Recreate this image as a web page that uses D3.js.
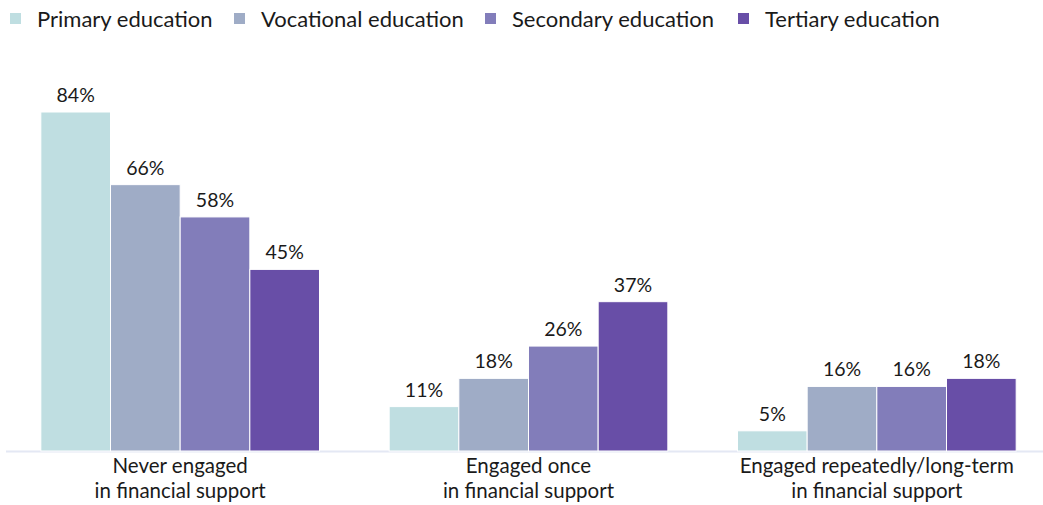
<!DOCTYPE html>
<html>
<head>
<meta charset="utf-8">
<script src="https://cdn.jsdelivr.net/npm/d3@7"></script>
<style>
  html, body { margin: 0; padding: 0; background: #ffffff; }
  svg { display: block; font-family: Lato, "Noto Sans", sans-serif; }
</style>
</head>
<body>
<svg id="chart" width="1043" height="505"></svg>
<script>
// Engagement in financial support, by education level (%)
const categories = [
  ["Never engaged", "in financial support"],
  ["Engaged once", "in financial support"],
  ["Engaged repeatedly/long-term", "in financial support"]
];
const seriesNames = ["Primary education", "Vocational education", "Secondary education", "Tertiary education"];
const primary    = [84, 11, 5];
const vocational = [66, 18, 16];
const secondary  = [58, 26, 16];
const tertiary   = [45, 37, 18];
const seriesValues = [primary, vocational, secondary, tertiary];
const colors = ["#bfdee1", "#9facc6", "#827dba", "#684ea7"];

const svg = d3.select("#chart");
const baseline = 451;

const x0 = d3.scaleBand()
  .domain(d3.range(categories.length))
  .range([6, 1051])
  .paddingInner(0.2)
  .paddingOuter(0.1);

const x1 = d3.scaleBand()
  .domain(d3.range(seriesNames.length))
  .range([0, x0.bandwidth()]);

const y = d3.scaleLinear().domain([0, 84]).range([baseline, 112]);

// baseline rule
svg.append("line")
  .attr("x1", 6).attr("x2", 1043)
  .attr("y1", baseline + 0.5).attr("y2", baseline + 0.5)
  .attr("stroke", "#e4e8f4").attr("stroke-width", 2);

const groups = svg.selectAll("g.group")
  .data(categories)
  .join("g")
  .attr("class", "group")
  .attr("transform", (d, i) => `translate(${x0(i)},0)`);

groups.each(function (cat, ci) {
  const g = d3.select(this);
  const vals = seriesValues.map((s, si) => ({ si, v: s[ci] }));
  g.selectAll("rect")
    .data(vals)
    .join("rect")
    .attr("x", d => x1(d.si))
    .attr("width", x1.bandwidth())
    .attr("y", d => y(d.v))
    .attr("height", d => baseline - y(d.v))
    .attr("fill", d => colors[d.si])
    .attr("stroke", "#ffffff")
    .attr("stroke-width", 1);

  g.selectAll("text.value")
    .data(vals)
    .join("text")
    .attr("class", "value")
    .attr("x", d => x1(d.si) + x1.bandwidth() / 2)
    .attr("y", d => y(d.v) - 10)
    .attr("text-anchor", "middle")
    .attr("font-size", 19.5)
    .attr("fill", "#1a1a1a")
    .text(d => d.v + "%");

  const lbl = g.append("text")
    .attr("text-anchor", "middle")
    .attr("font-size", 20.5)
    .attr("fill", "#1a1a1a");
  cat.forEach((line, li) => {
    lbl.append("tspan")
      .attr("x", x0.bandwidth() / 2)
      .attr("y", 473 + li * 24.5)
      .text(line);
  });
});

// legend
const legendX = [10, 234, 485, 738];
const legend = svg.selectAll("g.legend")
  .data(seriesNames)
  .join("g")
  .attr("class", "legend")
  .attr("transform", (d, i) => `translate(${legendX[i]},0)`);
legend.append("rect")
  .attr("x", 0).attr("y", 13)
  .attr("width", 11).attr("height", 11)
  .attr("fill", (d, i) => colors[i]);
legend.append("text")
  .attr("x", 27).attr("y", 26.5)
  .attr("font-size", 22)
  .attr("fill", "#1a1a1a")
  .text(d => d);
</script>
</body>
</html>
